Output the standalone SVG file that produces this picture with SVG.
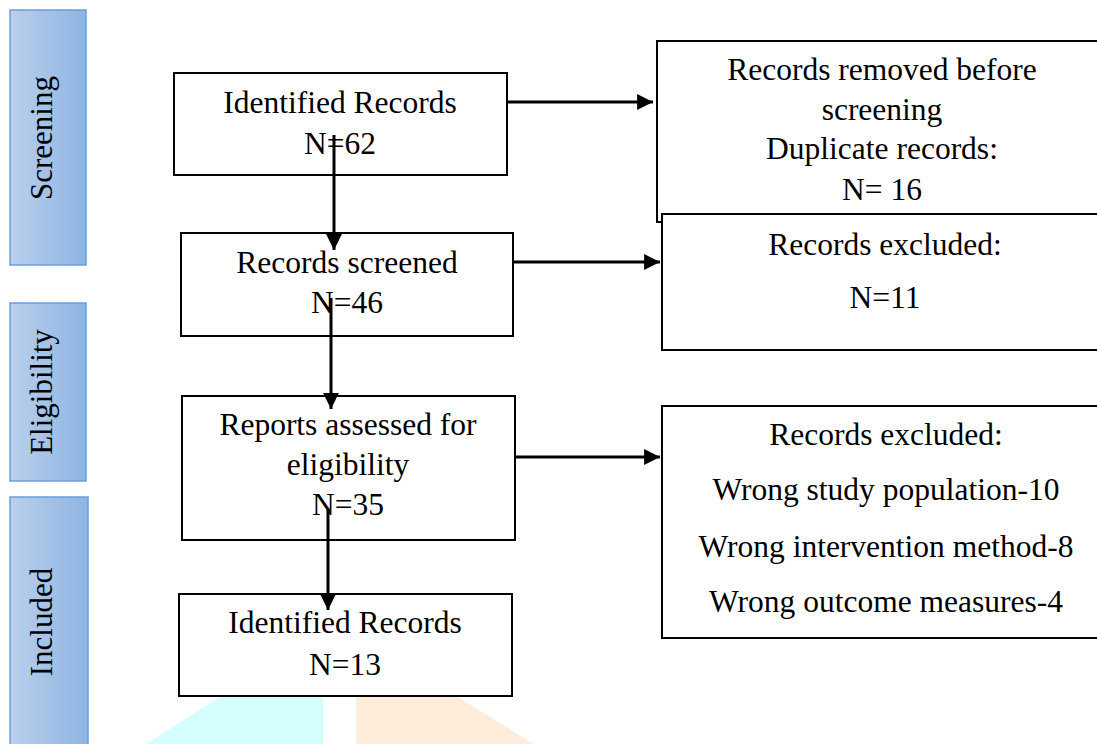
<svg xmlns="http://www.w3.org/2000/svg" width="1097" height="744" viewBox="0 0 1097 744">
<defs>
<linearGradient id="bar" x1="0" y1="0" x2="1" y2="0">
<stop offset="0" stop-color="#b9d0ec"/>
<stop offset="1" stop-color="#8fb4e2"/>
</linearGradient>
<marker id="ah" viewBox="0 0 10 10" refX="10" refY="5" markerWidth="5.3" markerHeight="5.3" orient="auto" markerUnits="strokeWidth">
<path d="M0,0 L10,5 L0,10 z" fill="#000"/>
</marker>
<style>
.box{fill:#fff;stroke:#000;stroke-width:2}
.bar{fill:url(#bar);stroke:#6a9fdc;stroke-width:1.5}
.t{font-family:"Liberation Serif","Times New Roman",serif;font-size:31.5px;fill:#000;text-anchor:middle}
.s{font-family:"Liberation Serif","Times New Roman",serif;font-size:31px;fill:#000;text-anchor:middle}
.c{stroke:#000;stroke-width:3;fill:none;marker-end:url(#ah)}
</style>
</defs>
<rect width="1097" height="744" fill="#fff"/>
<g id="watermark">
<polygon points="220,697 323,697 323,744 146,744" fill="#d4feff"/>
<polygon points="356,697 458,697 533,744 356,744" fill="#feeddb"/>
</g>
<g id="stage-screening">
<rect class="bar" x="10" y="10" width="76" height="255"/>
<text class="s" transform="translate(52,138) rotate(-90)">Screening</text>
</g>
<g id="stage-eligibility">
<rect class="bar" x="10" y="303" width="76" height="178"/>
<text class="s" transform="translate(52,392) rotate(-90)">Eligibility</text>
</g>
<g id="stage-included">
<rect class="bar" x="10" y="497" width="78" height="260"/>
<text class="s" transform="translate(52,622) rotate(-90)">Included</text>
</g>
<g id="identified">
<rect class="box" x="174" y="73" width="333" height="102"/>
<text class="t" x="340" y="113">Identified Records</text>
<text class="t" x="340" y="154">N=62</text>
</g>
<g id="removed">
<rect class="box" x="657" y="41" width="450" height="181"/>
<text class="t" x="882" y="80">Records removed before</text>
<text class="t" x="882" y="120">screening</text>
<text class="t" x="882" y="159">Duplicate records:</text>
<text class="t" x="882" y="200">N= 16</text>
</g>
<g id="excluded1">
<rect class="box" x="662" y="214" width="445" height="136"/>
<text class="t" x="885" y="255">Records excluded:</text>
<text class="t" x="885" y="308">N=11</text>
</g>
<g id="screened">
<rect class="box" x="181" y="233" width="332" height="103"/>
<text class="t" x="347" y="273">Records screened</text>
<text class="t" x="347" y="313">N=46</text>
</g>
<g id="assessed">
<rect class="box" x="182" y="396" width="333" height="144"/>
<text class="t" x="348" y="435">Reports assessed for</text>
<text class="t" x="348" y="475">eligibility</text>
<text class="t" x="348" y="515">N=35</text>
</g>
<g id="excluded2">
<rect class="box" x="662" y="406" width="445" height="232"/>
<text class="t" x="886" y="445">Records excluded:</text>
<text class="t" x="886" y="500">Wrong study population-10</text>
<text class="t" x="886" y="557">Wrong intervention method-8</text>
<text class="t" x="886" y="612">Wrong outcome measures-4</text>
</g>
<g id="included">
<rect class="box" x="179" y="594" width="333" height="102"/>
<text class="t" x="345" y="633">Identified Records</text>
<text class="t" x="345" y="675">N=13</text>
</g>
<g id="connectors">
<line class="c" x1="507" y1="102" x2="653" y2="102"/>
<line class="c" x1="513" y1="262" x2="660" y2="262"/>
<line class="c" x1="515" y1="457" x2="660" y2="457"/>
<line class="c" x1="334" y1="135" x2="334" y2="250"/>
<line class="c" x1="331" y1="298" x2="331" y2="409"/>
<line class="c" x1="328" y1="510" x2="328" y2="610"/>
</g>
</svg>
